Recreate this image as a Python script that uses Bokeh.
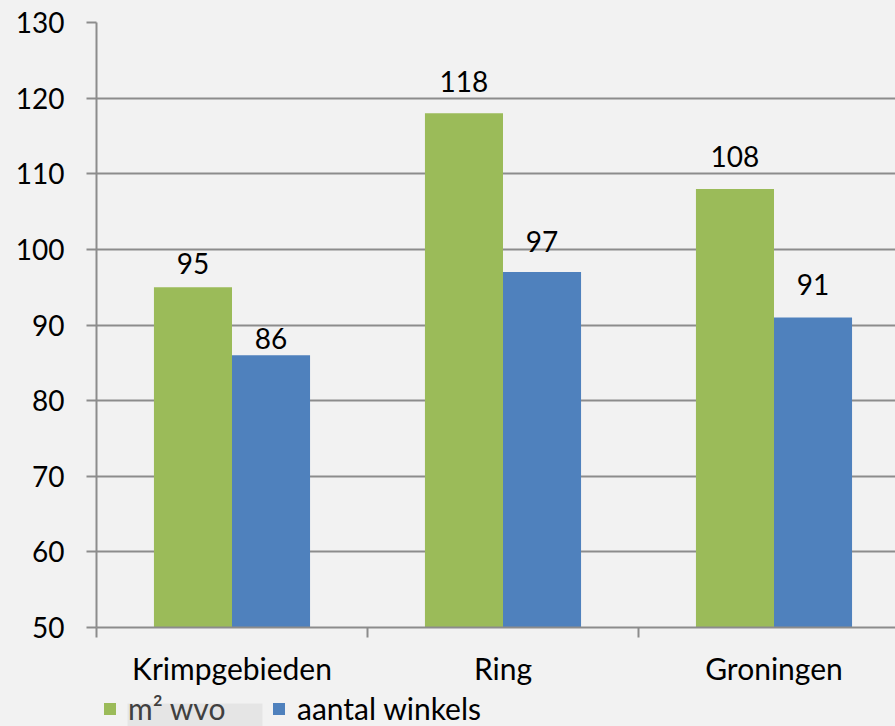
from bokeh.plotting import figure
from bokeh.layouts import column
from bokeh.models import Range1d, FixedTicker, Legend, LegendItem, BoxAnnotation
from bokeh.embed import file_html
from bokeh.resources import INLINE
from bokeh.core.properties import value

categories = ["Krimpgebieden", "Ring", "Groningen"]
m2_wvo = [95, 118, 108]
aantal_winkels = [86, 97, 91]
series_names = ["m\u00b2 wvo", "aantal winkels"]
y_ticks = [50, 60, 70, 80, 90, 100, 110, 120, 130]

# style: gap (px) between each value label and its bar top, as in the reference
label_gap_green = [12, 20, 21]
label_gap_blue = [5, 19, 21]

FONT = "Lato"
FS = "28px"
FS_CAT = "30px"
GREEN = "#9bbb59"
BLUE = "#4f81bd"
GRID = "#8c8c8c"
BG = "#f2f2f2"

bw = 0.288
centers = [i + 0.5 for i in range(len(categories))]
x_green = [c - bw / 2 for c in centers]
x_blue = [c + bw / 2 for c in centers]

H1 = 688
p = figure(width=895, height=H1, output_backend="svg", toolbar_location=None,
           x_range=Range1d(0, 799 / 271), y_range=Range1d(50, 130),
           min_border_left=96, min_border_right=0, min_border_top=22, min_border_bottom=H1 - 628)
p.background_fill_color = BG
p.border_fill_color = BG
p.outline_line_color = None

r1 = p.vbar(x=x_green, top=m2_wvo, bottom=50, width=bw, fill_color=GREEN, line_color=None)
r2 = p.vbar(x=x_blue, top=aantal_winkels, bottom=50, width=bw, fill_color=BLUE, line_color=None)

p.text(x=x_green, y=m2_wvo, text=[str(v) for v in m2_wvo], text_align="center",
       text_baseline="bottom", y_offset=[-(g + 1) for g in label_gap_green],
       text_font=value(FONT), text_font_size=FS, text_color="black")
p.text(x=x_blue, y=aantal_winkels, text=[str(v) for v in aantal_winkels], text_align="center",
       text_baseline="bottom", y_offset=[-(g + 1) for g in label_gap_blue],
       text_font=value(FONT), text_font_size=FS, text_color="black")

# y axis
p.yaxis.ticker = FixedTicker(ticks=y_ticks)
p.yaxis.axis_line_color = GRID
p.yaxis.axis_line_width = 2
p.yaxis.major_tick_line_color = GRID
p.yaxis.major_tick_line_width = 2
p.yaxis.major_tick_out = 10
p.yaxis.major_tick_in = 0
p.yaxis.minor_tick_line_color = None
p.yaxis.major_label_standoff = 22
p.yaxis.major_label_text_font = FONT
p.yaxis.major_label_text_font_size = FS
p.yaxis.major_label_text_color = "black"

p.ygrid.ticker = FixedTicker(ticks=y_ticks)
p.ygrid.grid_line_color = GRID
p.ygrid.grid_line_width = 2
p.xgrid.grid_line_color = None

# x axis: labels at category centres, ticks at boundaries (minor ticks)
p.xaxis.ticker = FixedTicker(ticks=centers, minor_ticks=list(range(len(categories) + 1)))
p.xaxis.major_label_overrides = {c: name for c, name in zip(centers, categories)}
p.xaxis.major_tick_line_color = None
p.xaxis.major_tick_out = 0
p.xaxis.major_tick_in = 0
p.xaxis.minor_tick_line_color = GRID
p.xaxis.minor_tick_line_width = 2
p.xaxis.minor_tick_out = 10
p.xaxis.minor_tick_in = 0
p.xaxis.axis_line_color = GRID
p.xaxis.axis_line_width = 2
p.xaxis.major_label_standoff = 12
p.xaxis.major_label_text_font = FONT
p.xaxis.major_label_text_font_size = FS_CAT
p.xaxis.major_label_text_color = "black"

# legend strip (its frame is aligned with the chart frame, starting at x=96)
H2 = 726 - H1
Y0 = 200  # the strip's y range lies above all values, so its bars are out of view
p2 = figure(width=895, height=H2, output_backend="svg", toolbar_location=None,
            x_range=Range1d(0, 799), y_range=Range1d(Y0, Y0 + H2),
            x_axis_type=None, y_axis_type=None,
            min_border_left=96, min_border_right=0, min_border_top=0, min_border_bottom=0)
p2.background_fill_color = BG
p2.border_fill_color = BG
p2.outline_line_color = None
p2.grid.grid_line_color = None

box = BoxAnnotation(left=31, right=166, bottom=Y0, top=Y0 + 23, fill_color="#e5e5e5",
                    fill_alpha=1, line_color=None, level="underlay")
p2.add_layout(box)

g1 = p2.vbar(x=x_green, top=m2_wvo, bottom=0, width=bw, fill_color=GREEN, line_color=None)
g2 = p2.vbar(x=x_blue, top=aantal_winkels, bottom=0, width=bw, fill_color=BLUE, line_color=None)

def make_legend(label, rend, x, color):
    lg = Legend(items=[LegendItem(label=label, renderers=[rend])],
                orientation="horizontal", location=(x, 0))
    lg.background_fill_alpha = 0
    lg.border_line_color = None
    lg.padding = 0
    lg.margin = 0
    lg.glyph_width = 15
    lg.glyph_height = 15
    lg.label_standoff = 11
    lg.label_height = 20
    lg.label_text_font = FONT
    lg.label_text_font_size = FS_CAT
    lg.label_text_color = color
    return lg

p2.add_layout(make_legend(series_names[0], g1, 6, "#404040"), "center")
p2.add_layout(make_legend(series_names[1], g2, 175, "black"), "center")

layout = column(p, p2, spacing=0, styles={"background-color": BG})
open("out.html", "w").write(file_html(layout, INLINE))
